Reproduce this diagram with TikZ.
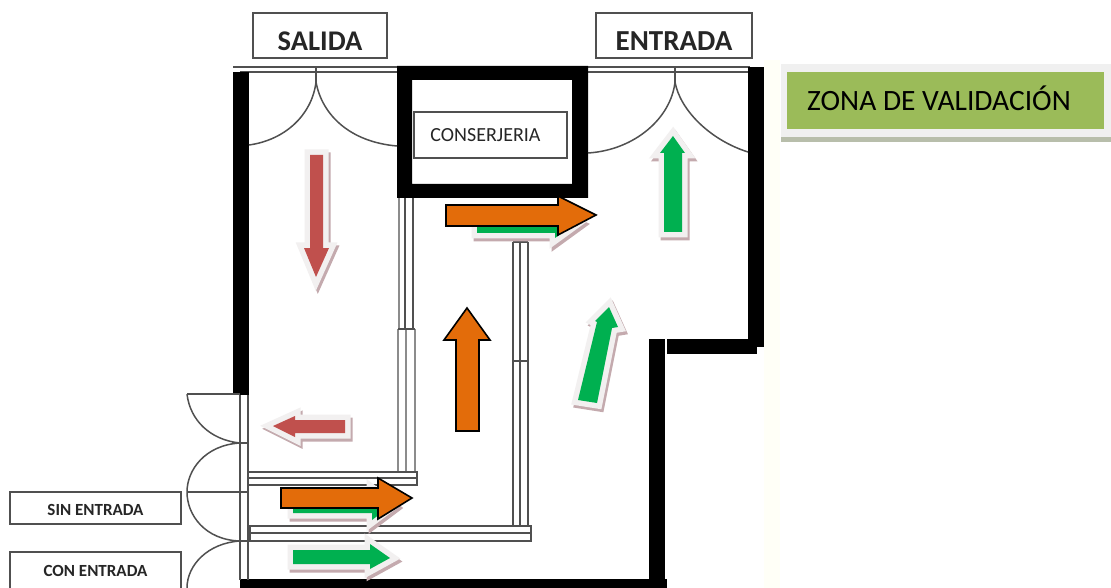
\documentclass[tikz,border=0pt]{standalone}
\usepackage{fontspec}
\setmainfont{Carlito}
\definecolor{orangeA}{HTML}{E36C0A}
\definecolor{greenA}{HTML}{00B050}
\definecolor{redA}{HTML}{C0504D}
\definecolor{oliveA}{HTML}{9BBB59}
\definecolor{haloA}{HTML}{F2F0F0}
\definecolor{shadeA}{HTML}{C4AAAE}
\definecolor{lineA}{HTML}{505050}
\tikzset{
  wall/.style={fill=black,draw=none},
  thin wall/.style={draw=lineA,line width=1.4pt},
  pale wall/.style={draw=black!45,line width=1.4pt},
  swing/.style={draw=lineA,line width=1.5pt},
  label box/.style={draw=lineA,fill=white,line width=1.3pt,inner sep=0pt,align=center,text=black!85},
  orange arrow/.style={fill=orangeA,draw=black,line width=1.6pt,line join=miter},
}
\newcommand{\halofig}[2]{%
  \path[draw=shadeA,fill=shadeA,line width=11pt,line join=miter,shift={(2,3)}] #2 -- cycle;
  \path[draw=haloA,fill=haloA,line width=11pt,line join=miter] #2 -- cycle;
  \path[fill=#1] #2 -- cycle;
}
\newcommand{\lowered}[2]{\raisebox{#1}[\height][\depth]{#2}}
\begin{document}
\begin{tikzpicture}[x=1pt,y=-1pt]
\useasboundingbox (0,0) rectangle (1111,588);
\fill[white] (0,0) rectangle (1111,588);
\fill[yellow!3] (764,60) rectangle (780,588);

% top double lines
\draw[thin wall] (233,67) -- (398,67) (240,72) -- (398,72);
\draw[thin wall] (588,67) -- (750,67) (588,72) -- (750,72);

% walls
\fill[wall] (233,72) rectangle (249,395);
\fill[wall] (748,67) rectangle (764,347);
\fill[wall] (667,339) rectangle (757,354);
\fill[wall] (649,339) rectangle (665,588);
\fill[wall] (240,579) rectangle (667,588);
\fill[wall,even odd rule] (397,66) rectangle (588,198) (412,80) rectangle (572,184);

% doors top
\draw[swing] (316,67) -- (316,85);
\draw[swing] (316,82) .. controls (312,115) and (285,140) .. (249,145);
\draw[swing] (316,82) .. controls (322,115) and (350,142) .. (397,146);
\draw[swing] (675,67) -- (675,85);
\draw[swing] (675,82) .. controls (671,118) and (635,150) .. (588,153);
\draw[swing] (675,82) .. controls (680,110) and (710,140) .. (748,152);

% left double wall and doors
\draw[thin wall] (240,395) -- (240,580) (248,395) -- (248,580);
\draw[swing] (187,394) -- (240,394);
\draw[swing] (187,394) .. controls (190,420) and (210,440) .. (240,443);
\draw[swing] (232,443) -- (248,443);
\draw[swing] (240,443) .. controls (205,445) and (187,470) .. (187,492) .. controls (187,515) and (205,540) .. (240,541);
\draw[swing] (187,492) -- (248,492);
\draw[swing] (232,541) -- (250,541);
\draw[swing] (240,541) .. controls (208,543) and (187,565) .. (187,588);

% partitions
\draw[pale wall] (399,198) -- (399,329);
\draw[thin wall] (405,198) -- (405,329) (413,198) -- (413,329);
\draw[pale wall] (398,329) -- (398,472) (406,329) -- (406,472) (415,329) -- (415,472);
\draw[thin wall] (398,329) -- (415,329);
\draw[thin wall] (249,472) -- (417,472) -- (417,485) -- (249,485) (249,478) -- (417,478);
\draw[thin wall] (513,242) -- (513,526) (520,242) -- (520,526) (528,242) -- (528,526) (513,242) -- (528,242) (513,361) -- (528,361);
\draw[thin wall] (250,526) -- (531,526) -- (531,541) -- (250,541) -- cycle (250,533) -- (531,533);

% green, red arrows with halo and shadow
\halofig{redA}{(310,155) -- (323,155) -- (323,248) -- (329,248) -- (316,277) -- (304,248) -- (310,248)}
\halofig{redA}{(345,420) -- (345,433) -- (295,433) -- (295,437) -- (273,426) -- (295,416) -- (295,420)}
\halofig{greenA}{(664,232) -- (682,232) -- (682,153) -- (685,153) -- (673,136) -- (660,153) -- (664,153)}
\halofig{greenA}{(578,400) -- (597,403) -- (612,328) -- (618,327) -- (609,307) -- (595,321) -- (597,322)}
\halofig{greenA}{(293,550) -- (370,550) -- (370,544) -- (390,558) -- (370,569) -- (370,564) -- (293,564)}
\halofig{greenA}{(293,498) -- (372,498) -- (372,490) -- (392,505) -- (372,520) -- (372,513) -- (293,513)}
\halofig{greenA}{(477,218) -- (555,218) -- (555,212) -- (577,222) -- (555,238) -- (555,233) -- (477,233)}

% orange arrows
\draw[orange arrow] (446,205) -- (558,205) -- (558,196) -- (596,215) -- (558,235) -- (558,226) -- (446,226) -- cycle;
\draw[orange arrow] (456,431) -- (456,340) -- (444,340) -- (467,308) -- (490,340) -- (479,340) -- (479,431) -- cycle;
\draw[orange arrow] (281,488) -- (378,488) -- (378,478) -- (412,498) -- (378,519) -- (378,508) -- (281,508) -- cycle;

% labels
\node[label box,minimum width=134pt,minimum height=45pt,font=\fontsize{28.5}{30}\selectfont\bfseries] (salida) at (320,35.5) {\lowered{-6pt}{SALIDA}};
\node[label box,minimum width=156pt,minimum height=45pt,font=\fontsize{29}{30}\selectfont\bfseries] (entrada) at (674,35.5) {\lowered{-6pt}{ENTRADA}};
\node[label box,minimum width=153pt,minimum height=46pt,font=\fontsize{20}{22}\selectfont] (conserjeria) at (490.5,135) {\hspace*{-10pt}CONSERJERIA};
\node[label box,minimum width=171pt,minimum height=32pt,font=\fontsize{17}{19}\selectfont\bfseries] (sinentrada) at (95.5,508) {\lowered{-2pt}{SIN ENTRADA}};
\node[label box,minimum width=171pt,minimum height=37pt,font=\fontsize{17}{19}\selectfont\bfseries] (conentrada) at (95.5,570.5) {CON ENTRADA};

% validation zone
\fill[oliveA!50!black!40!white] (781,137) rectangle (1111,142);
\fill[black!6] (781,64) rectangle (1111,137);
\node[fill=oliveA,minimum width=317pt,minimum height=57pt,inner sep=0pt,font=\fontsize{29.5}{32}\selectfont,text=black] (zona) at (945.5,100.5) {\hspace*{-13pt}\lowered{2pt}{ZONA DE VALIDACIÓN}};
\end{tikzpicture}
\end{document}
